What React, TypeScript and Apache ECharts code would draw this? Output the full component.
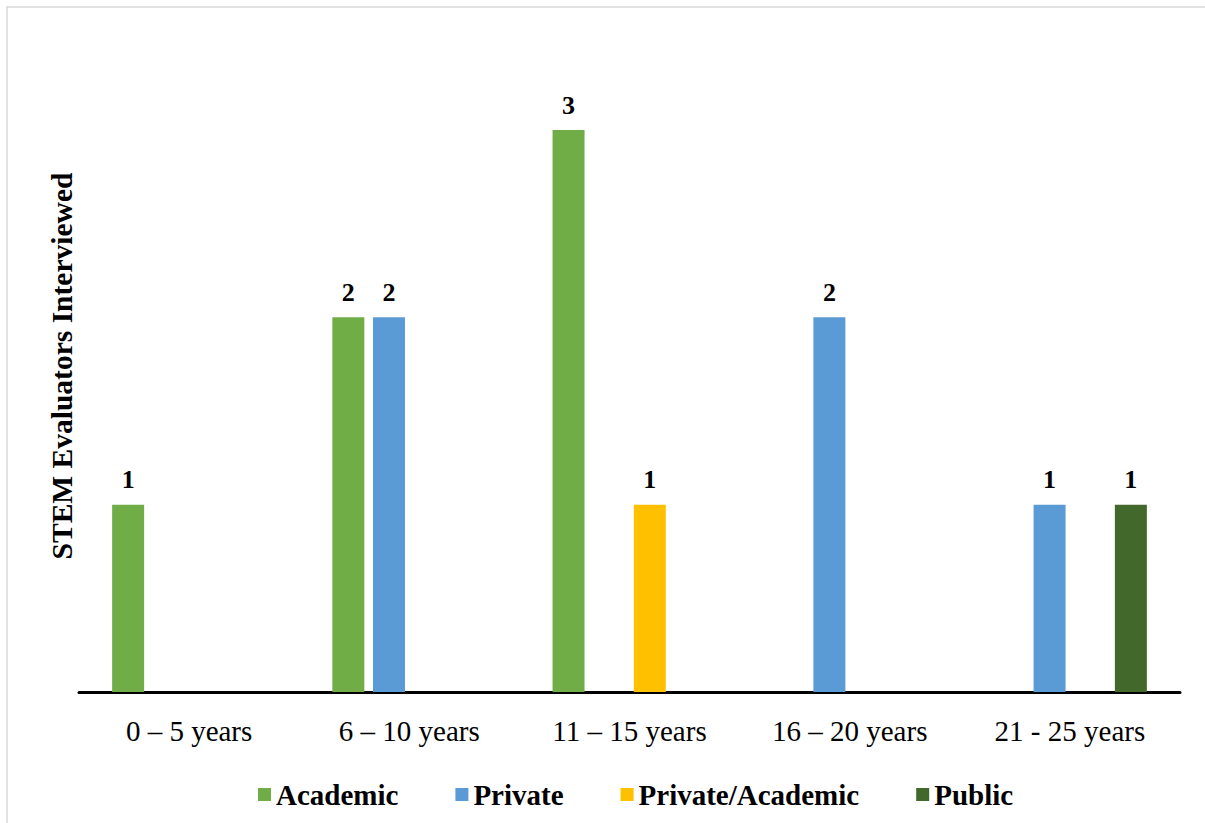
import React, { useEffect, useRef } from "react";
import * as echarts from "echarts";

const categories = ["0 – 5 years", "6 – 10 years", "11 – 15 years", "16 – 20 years", "21 - 25 years"];
const academic = [1, 2, 3, null, null];
const privateV = [null, 2, null, 2, 1];
const privateAcademic = [null, null, 1, null, null];
const publicV = [null, null, null, null, 1];
const seriesNames = ["Academic", "Private", "Private/Academic", "Public"];
const colors = ["#70AD47", "#5B9BD5", "#FFC000", "#43682B"];
const yTitle = "STEM Evaluators Interviewed";

const FONT = "'Liberation Serif', 'Times New Roman', serif";

export default function App() {
  const ref = useRef<HTMLDivElement>(null);
  useEffect(() => {
    if (!ref.current) return;
    const chart = echarts.init(ref.current, null, { renderer: "svg" });
    const dataSets = [academic, privateV, privateAcademic, publicV];
    chart.setOption({
      animation: false,
      backgroundColor: "#ffffff",
      textStyle: { fontFamily: FONT },
      grid: { left: 79, right: 25, top: 130, bottom: 131, containLabel: false },
      legend: {
        top: 775,
        left: 253,
        itemWidth: 13,
        itemHeight: 13,
        itemGap: 57,
        icon: "rect",
        textStyle: { fontFamily: FONT, fontWeight: "bold", fontSize: 29, color: "#000" },
        data: seriesNames,
      },
      xAxis: {
        type: "category",
        data: categories,
        axisLine: { lineStyle: { color: "#000", width: 3 } },
        axisTick: { show: false },
        axisLabel: { fontFamily: FONT, fontSize: 29, color: "#000", margin: 24 },
      },
      yAxis: {
        type: "value",
        min: 0,
        max: 3,
        interval: 1,
        axisLine: { show: false },
        axisTick: { show: false },
        axisLabel: { show: false },
        splitLine: { show: false },
      },
      graphic: [
        {
          type: "rect",
          shape: { x: 7, y: 7, width: 1230, height: 850 },
          style: { fill: "none", stroke: "#d9d9d9", lineWidth: 1.5 },
          silent: true,
        },
        {
          type: "text",
          x: 62,
          y: 366,
          rotation: Math.PI / 2,
          style: {
            text: yTitle,
            fontFamily: FONT,
            fontWeight: "bold",
            fontSize: 29.5,
            fill: "#000",
            align: "center",
            verticalAlign: "middle",
          },
        },
      ],
      series: seriesNames.map((name, i) => ({
        name,
        type: "bar",
        data: dataSets[i],
        barWidth: 32,
        barGap: "27%",
        itemStyle: { color: colors[i] },
        label: {
          show: true,
          position: "top",
          distance: 12,
          fontFamily: FONT,
          fontWeight: "bold",
          fontSize: 26,
          color: "#000",
        },
      })),
    });
    return () => chart.dispose();
  }, []);
  return (
    <div
      ref={ref}
      style={{ position: "fixed", left: 0, top: 0, width: 1205, height: 823, background: "#fff" }}
    />
  );
}
